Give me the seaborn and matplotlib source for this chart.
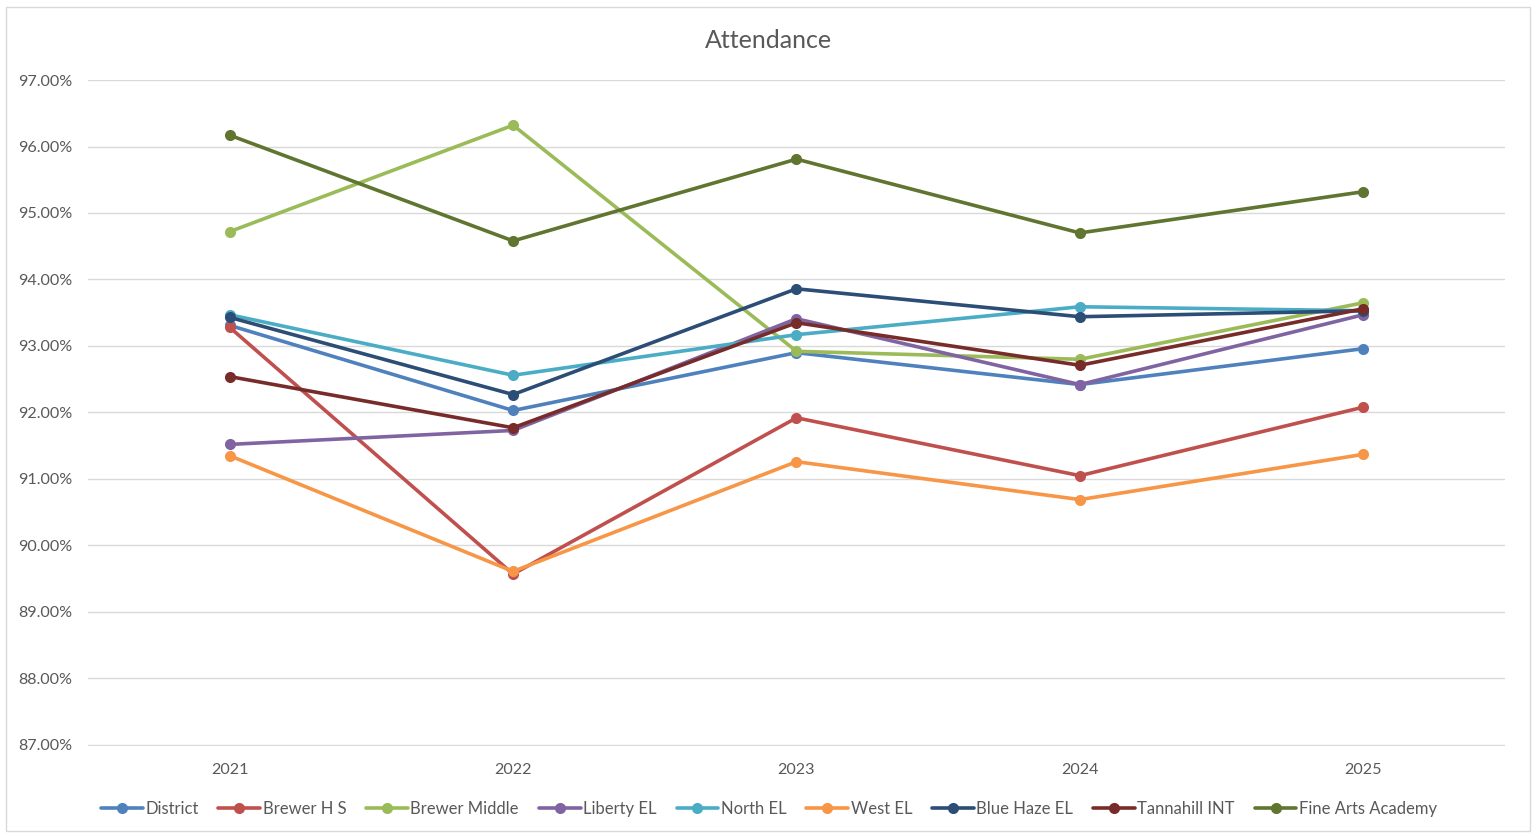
import matplotlib
matplotlib.use("Agg")
import matplotlib.pyplot as plt
import matplotlib.patches as mpatches
import seaborn as sns
import pandas as pd
from matplotlib.ticker import FuncFormatter

years = ["2021", "2022", "2023", "2024", "2025"]
schools = ["District", "Brewer H S", "Brewer Middle", "Liberty EL", "North EL",
           "West EL", "Blue Haze EL", "Tannahill INT", "Fine Arts Academy"]
district = [93.31, 92.03, 92.90, 92.42, 92.96]
brewer_hs = [93.28, 89.57, 91.92, 91.05, 92.08]
brewer_middle = [94.72, 96.32, 92.92, 92.80, 93.65]
liberty_el = [91.52, 91.73, 93.41, 92.42, 93.47]
north_el = [93.47, 92.56, 93.17, 93.59, 93.53]
west_el = [91.35, 89.61, 91.26, 90.69, 91.37]
blue_haze_el = [93.43, 92.27, 93.86, 93.44, 93.53]
tannahill_int = [92.54, 91.77, 93.35, 92.71, 93.56]
fine_arts = [96.17, 94.58, 95.81, 94.70, 95.32]
colors = ["#4F81BD", "#C0504D", "#9BBB59", "#8064A2", "#4BACC6",
          "#F79646", "#2C4D75", "#772C2A", "#5F7530"]

series = [district, brewer_hs, brewer_middle, liberty_el, north_el,
          west_el, blue_haze_el, tannahill_int, fine_arts]
rows = []
for name, vals in zip(schools, series):
    for i, (y, v) in enumerate(zip(years, vals)):
        rows.append({"School": name, "Year": y, "idx": i, "Attendance": v})
df = pd.DataFrame(rows)

sns.set_style("white")
plt.rcParams["font.family"] = ["Lato", "DejaVu Sans"]
text_color = "#595959"

fig = plt.figure(figsize=(15.36, 8.36), dpi=100)
ax = fig.add_axes([0.0573, 0.1077, 0.9225, 0.7966])

sns.lineplot(data=df, x="idx", y="Attendance", hue="School", hue_order=schools,
             palette=colors, marker="o", markersize=8, linewidth=2.6,
             markeredgewidth=0, ax=ax, legend=True, zorder=3)

ax.set_xlim(-0.5, 4.5)
ax.set_ylim(86.985, 97.0)
ax.set_yticks([87 + i for i in range(11)])
ax.yaxis.set_major_formatter(FuncFormatter(lambda v, p: f"{v:.2f}%"))
ax.set_xticks(range(5))
ax.set_xticklabels(years)
ax.grid(axis="y", color="#D9D9D9", linewidth=1)
ax.set_axisbelow(True)
for s in ax.spines.values():
    s.set_visible(False)
ax.tick_params(axis="both", length=0, labelsize=11.6, colors=text_color)
ax.tick_params(axis="y", pad=11.5)
ax.tick_params(axis="x", pad=12)
ax.set_xlabel("")
ax.set_ylabel("")

fig.text(0.5, 0.951, "Attendance", ha="center", va="center", fontsize=18, color=text_color)

handles, labels = ax.get_legend_handles_labels()
ax.get_legend().remove()
fig.legend(handles, labels, loc="center", bbox_to_anchor=(769 / 1536, 1 - 809 / 836),
           ncol=9, frameon=False, fontsize=12, handlelength=2.5,
           handletextpad=0.15, columnspacing=1.2, labelcolor=text_color)

fig.patches.append(mpatches.Rectangle((0.004, 0.006), 0.992, 0.986, transform=fig.transFigure,
                                      fill=False, edgecolor="#D9D9D9", linewidth=1))

fig.savefig("out.png", dpi=100)
